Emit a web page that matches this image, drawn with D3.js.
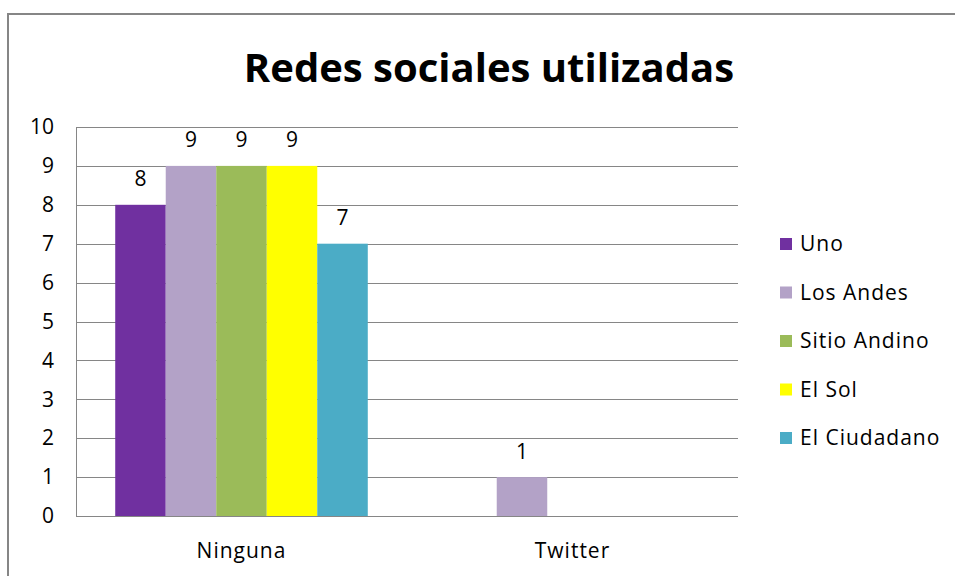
<!DOCTYPE html>
<html>
<head>
<meta charset="utf-8">
<script src="https://cdn.jsdelivr.net/npm/d3@7"></script>
<style>
  body { margin: 0; background: #fff; }
  svg { display: block; font-family: "Open Sans", sans-serif; }
</style>
</head>
<body>
<div id="chart"></div>
<script>
// Data
const categories = ["Ninguna", "Twitter"];
const seriesNames = ["Uno", "Los Andes", "Sitio Andino", "El Sol", "El Ciudadano"];
const ninguna = [8, 9, 9, 9, 7];
const twitter = [0, 1, 0, 0, 0];
const yTicks = [0, 1, 2, 3, 4, 5, 6, 7, 8, 9, 10];

const colors = ["#7030a0", "#b3a2c7", "#9bbb59", "#ffff00", "#4bacc6"];

const width = 955, height = 576;
const plot = { left: 76, right: 738, top: 127, bottom: 516 };
const labelSize = 21;

const svg = d3.select("#chart")
    .append("svg")
    .attr("width", width)
    .attr("height", height);

// outer chart frame (runs past the window on right and bottom)
svg.append("rect")
    .attr("x", 8).attr("y", 14)
    .attr("width", 1000).attr("height", 700)
    .attr("fill", "none")
    .attr("stroke", "#868686")
    .attr("stroke-width", 2);

svg.append("text")
    .attr("x", 489).attr("y", 82)
    .attr("text-anchor", "middle")
    .attr("font-size", 40)
    .attr("font-weight", "bold")
    .attr("fill", "#000")
    .text("Redes sociales utilizadas");

const x0 = d3.scaleBand()
    .domain(categories)
    .range([plot.left, plot.right])
    .paddingInner(0.237)
    .paddingOuter(0.1185);

const x1 = d3.scaleBand()
    .domain(seriesNames)
    .range([0, x0.bandwidth()]);

const y = d3.scaleLinear()
    .domain([0, 10])
    .range([plot.bottom, plot.top]);

// gridlines
svg.append("g")
    .selectAll("line")
    .data(yTicks)
    .enter()
    .append("line")
    .attr("x1", plot.left).attr("x2", plot.right)
    .attr("y1", d => Math.round(y(d)) + 0.5)
    .attr("y2", d => Math.round(y(d)) + 0.5)
    .attr("stroke", "#868686")
    .attr("stroke-width", 1);

// y axis line
svg.append("line")
    .attr("x1", plot.left + 0.5).attr("x2", plot.left + 0.5)
    .attr("y1", plot.top).attr("y2", plot.bottom)
    .attr("stroke", "#868686");

// y tick labels
const yAxis = d3.axisLeft(y).tickValues(yTicks).tickSize(0).tickPadding(0);
const gy = svg.append("g")
    .attr("transform", `translate(54,0)`)
    .call(yAxis);
gy.select(".domain").remove();
gy.selectAll("text")
    .attr("font-size", labelSize)
    .attr("font-family", "Open Sans, sans-serif")
    .attr("fill", "#000");

// x category labels
const xAxis = d3.axisBottom(x0).tickSize(0).tickPadding(0);
const gx = svg.append("g")
    .attr("transform", `translate(0,${plot.bottom + 27})`)
    .call(xAxis);
gx.select(".domain").remove();
gx.selectAll("text")
    .attr("font-size", labelSize)
    .attr("font-family", "Open Sans, sans-serif")
    .attr("letter-spacing", 1)
    .attr("fill", "#000");

// bars
const rows = categories.map((c, i) => ({
    category: c,
    values: (i === 0 ? ninguna : twitter).map((v, j) => ({ name: seriesNames[j], value: v, color: colors[j] }))
}));

const groups = svg.selectAll(".group")
    .data(rows)
    .enter()
    .append("g")
    .attr("class", "group")
    .attr("transform", d => `translate(${x0(d.category)},0)`);

groups.selectAll("rect")
    .data(d => d.values.filter(v => v.value > 0))
    .enter()
    .append("rect")
    .attr("x", d => x1(d.name))
    .attr("y", d => y(d.value))
    .attr("width", x1.bandwidth())
    .attr("height", d => y(0) - y(d.value))
    .attr("fill", d => d.color);

groups.selectAll(".label")
    .data(d => d.values.filter(v => v.value > 0))
    .enter()
    .append("text")
    .attr("class", "label")
    .attr("x", d => x1(d.name) + x1.bandwidth() / 2)
    .attr("y", d => y(d.value) - 18.5)
    .attr("text-anchor", "middle")
    .attr("font-size", labelSize)
    .attr("fill", "#000")
    .text(d => d.value);

// legend
const legend = svg.selectAll(".legend")
    .data(seriesNames)
    .enter()
    .append("g")
    .attr("class", "legend")
    .attr("transform", (d, i) => `translate(780,${243 + i * 48.5})`);

legend.append("rect")
    .attr("x", 0).attr("y", -5)
    .attr("width", 12).attr("height", 12)
    .attr("fill", (d, i) => colors[i]);

legend.append("text")
    .attr("x", 20).attr("y", 8)
    .attr("font-size", labelSize)
    .attr("letter-spacing", 1)
    .attr("fill", "#000")
    .text(d => d);
</script>
</body>
</html>
